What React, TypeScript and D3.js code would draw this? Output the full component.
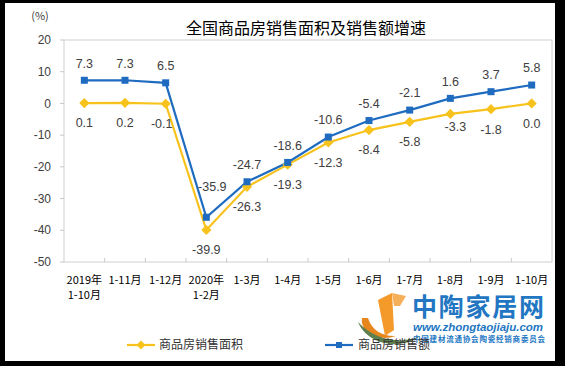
import React from 'react'
import { scaleBand, scaleLinear, line } from 'd3'

// categories, two lines per tick label
const categories = ['2019年|1-10月', '1-11月', '1-12月', '2020年|1-2月', '1-3月', '1-4月', '1-5月', '1-6月', '1-7月', '1-8月', '1-9月', '1-10月']
const areaGrowth = [0.1, 0.2, -0.1, -39.9, -26.3, -19.3, -12.3, -8.4, -5.8, -3.3, -1.8, 0.0]
const salesGrowth = [7.3, 7.3, 6.5, -35.9, -24.7, -18.6, -10.6, -5.4, -2.1, 1.6, 3.7, 5.8]
const yTicks = [20, 10, 0, -10, -20, -30, -40, -50]

const YELLOW = '#F7C21B'
const BLUE = '#1E6BC0'
const FONT = '"Liberation Sans", Arial, sans-serif'
const CJK = '"Noto Sans CJK SC", sans-serif'

export default function App() {
    const width = 565
    const height = 366
    const plot = { left: 64, right: 552, top: 40, bottom: 262 }

    const x = scaleBand()
        .domain(categories)
        .range([plot.left, plot.right])
    const y = scaleLinear()
        .domain([-50, 20])
        .range([plot.bottom, plot.top])

    const cx = (i: number) => (x(categories[i]) as number) + x.bandwidth() / 2
    const path = line<number>()
        .x((d, i) => cx(i))
        .y(d => y(d))

    // a couple of labels excel nudged out of the way
    const blueNudge: Record<number, [number, number]> = { 3: [6, -14] }
    const yellowNudge: Record<number, [number, number]> = { 2: [-4, 0], 9: [5, -7] }

    return (
        <>
        <style>{`body{margin:0}`}</style>
        <svg width={width} height={height} style={{ display: 'block' }}>
            <rect x={0} y={0} width={width} height={height} fill="#000" />
            <rect x={5} y={3} width={550} height={358} fill="#fff" />

            <text x={306} y={34} textAnchor="middle" fontFamily={CJK} fontSize={16} fill="#000">全国商品房销售面积及销售额增速</text>
            <text x={40} y={20} textAnchor="middle" fontFamily={CJK} fontSize={11} fill="#404040">(%)</text>

            {/* plot frame */}
            <rect x={plot.left} y={plot.top} width={plot.right - plot.left} height={plot.bottom - plot.top}
                fill="none" stroke="#D0D0D0" strokeWidth={1} />

            {yTicks.map(t => (
                <g key={t}>
                    <line x1={plot.left - 4} x2={plot.left} y1={y(t)} y2={y(t)} stroke="#C8C8C8" />
                    <text x={51} y={y(t)} dy="0.35em" textAnchor="end" fontFamily={FONT} fontSize={12} fill="#404040">{t}</text>
                </g>
            ))}

            {categories.map((c, i) => (
                <g key={c}>
                    {i > 0 && <line x1={x(c)} x2={x(c)} y1={plot.bottom} y2={plot.bottom - 4} stroke="#C8C8C8" />}
                    {c.split('|').map((s, j) => (
                        <text key={j} x={cx(i)} y={284 + j * 15} textAnchor="middle" fontFamily={CJK} fontSize={11} fill="#000">{s}</text>
                    ))}
                </g>
            ))}

            <path d={path(areaGrowth) || ''} fill="none" stroke={YELLOW} strokeWidth={2.2} />
            <path d={path(salesGrowth) || ''} fill="none" stroke={BLUE} strokeWidth={2.2} />

            {areaGrowth.map((v, i) => (
                <rect key={'a' + i} x={cx(i) - 3.6} y={y(v) - 3.6} width={7.2} height={7.2} fill={YELLOW}
                    transform={`rotate(45 ${cx(i)} ${y(v)})`} />
            ))}
            {salesGrowth.map((v, i) => (
                <rect key={'s' + i} x={cx(i) - 3.5} y={y(v) - 3.5} width={7} height={7} fill={BLUE} />
            ))}

            {salesGrowth.map((v, i) => {
                const [dx, dy] = blueNudge[i] || [0, 0]
                return <text key={'sl' + i} x={cx(i) + dx} y={y(v) - 17 + dy} dy="0.35em" textAnchor="middle"
                    fontFamily={FONT} fontSize={12.5} fill="#404040">{v.toFixed(1)}</text>
            })}
            {areaGrowth.map((v, i) => {
                const [dx, dy] = yellowNudge[i] || [0, 0]
                return <text key={'al' + i} x={cx(i) + dx} y={y(v) + 20 + dy} dy="0.35em" textAnchor="middle"
                    fontFamily={FONT} fontSize={12.5} fill="#404040">{v.toFixed(1)}</text>
            })}

            {/* watermark */}
            <g>
                <path d="M362,318 C360,333 378,342 396,336 C386,337 372,332 368,318 Z" fill="#E8861E" />
                <path d="M378,300 L392,293 L394,330 L385,336 Z" fill="#F39A2B" />
                <path d="M392,293 L406,296 L400,306 L394,306 Z" fill="#F7B05A" />
                <path d="M358,322 C368,346 402,350 420,336 C404,344 376,342 358,322 Z" fill="#5E7F4E" />
                <text x={412} y={316} fontFamily={CJK} fontWeight="bold" fontSize={25} fill="#2276C2" textLength={132}>中陶家居网</text>
                <text x={413} y={331} fontFamily={FONT} fontStyle="italic" fontWeight="bold" fontSize={11.5} fill="#2276C2" textLength={130}>www.zhongtaojiaju.com</text>
                <text x={413} y={342} fontFamily={CJK} fontWeight="bold" fontSize={7.5} fill="#2276C2" textLength={132}>中国建材流通协会陶瓷经销商委员会</text>
            </g>

            {/* legend */}
            <line x1={127} x2={155} y1={345} y2={345} stroke={YELLOW} strokeWidth={2.2} />
            <rect x={141 - 3.2} y={345 - 3.2} width={6.4} height={6.4} fill={YELLOW} transform="rotate(45 141 345)" />
            <text x={159} y={345} dy="0.35em" fontFamily={CJK} fontSize={12} fill="#333">商品房销售面积</text>
            <line x1={325} x2={353} y1={345} y2={345} stroke={BLUE} strokeWidth={2.2} />
            <rect x={336} y={342} width={6} height={6} fill={BLUE} />
            <text x={358} y={345} dy="0.35em" fontFamily={CJK} fontSize={12} fill="#333">商品房销售额</text>
        </svg>
        </>
    )
}
